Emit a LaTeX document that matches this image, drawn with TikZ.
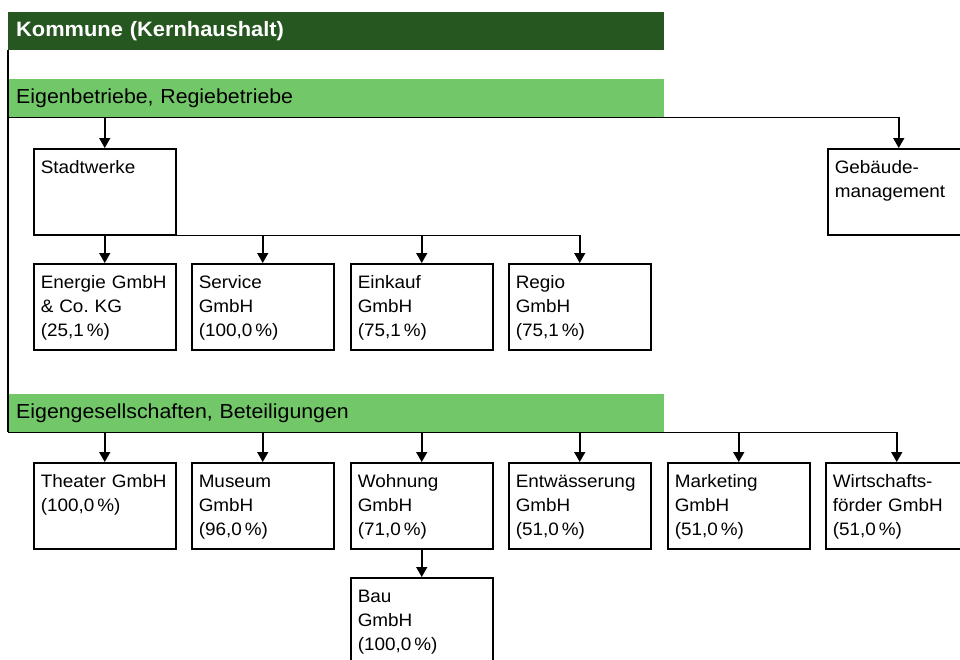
\documentclass[tikz,border=0pt]{standalone}
\usepackage{fontspec}
\setmainfont{Liberation Sans}[FakeStretch=1.05]
\usetikzlibrary{arrows.meta}
\definecolor{dunkelgruen}{RGB}{39,87,32}
\definecolor{hellgruen}{RGB}{114,200,104}

\begin{document}
\begin{tikzpicture}[x=1pt,y=-1pt]
		\tikzset{firma/.style = {draw, line width=1.5pt, anchor=north west, inner xsep=7pt, inner ysep=11pt, text width=128pt, text height=14pt, text depth=50pt, align=left, font=\fontsize{18}{24}\selectfont}}
		\tikzset{balken/.style = {anchor=north west, minimum width=656pt, minimum height=38pt, inner xsep=7pt, text width=640pt, align=left, font=\fontsize{20.3}{24}\selectfont}}
		\tikzset{linie/.style = {line width=1.5pt}}
		\tikzset{pfeil/.style = {line width=1.5pt, -{Triangle[length=10pt,width=11pt]}}}

		\useasboundingbox (0,0) rectangle (960,659);

		\node[balken, fill=dunkelgruen, text=white, font=\bfseries\fontsize{20.8}{24}\selectfont] (K) at (8,12) {Kommune (Kernhaushalt)};
		\node[balken, fill=hellgruen] (E) at (8,79) {Eigenbetriebe, Regiebetriebe};
		\node[balken, fill=hellgruen] (G) at (8,394) {Eigengesellschaften, Beteiligungen};

		\node[firma] (S) at (33,148) {Stadtwerke};
		\node[firma] (M) at (827,148) {Gebäude-\\management};

		\node[firma] (B_1) at (33,263) {Energie GmbH\\\&~Co.~KG\\(25,1\,\%)};
		\node[firma] (B_2) at (191,263) {Service\\GmbH\\(100,0\,\%)};
		\node[firma] (B_3) at (350,263) {Einkauf\\GmbH\\(75,1\,\%)};
		\node[firma] (B_4) at (508,263) {Regio\\GmbH\\(75,1\,\%)};

		\node[firma] (C_1) at (33,462) {Theater GmbH\\(100,0\,\%)};
		\node[firma] (C_2) at (191,462) {Museum\\GmbH\\(96,0\,\%)};
		\node[firma] (C_3) at (350,462) {Wohnung\\GmbH\\(71,0\,\%)};
		\node[firma] (C_4) at (508,462) {Entwässerung\\GmbH\\(51,0\,\%)};
		\node[firma] (C_5) at (667,462) {Marketing\\GmbH\\(51,0\,\%)};
		\node[firma] (C_6) at (825,462) {Wirtschafts-\\förder GmbH\\(51,0\,\%)};

		\node[firma] (D_1) at (350,577) {Bau\\GmbH\\(100,0\,\%)};

		% Kernhaushalt
		\draw[linie] (K.south west)--(G.south west);

		% Eigenbetriebe
		\draw[pfeil] (E.south west)-|(M.north);
		\draw[pfeil] (S.north |- E.south)--(S.north);

		% Stadtwerke
		\draw[pfeil] (S.south east)-|(B_4.north);
		\foreach \i in {1,2,3}
			\draw[pfeil] (B_\i.north |- S.south)--(B_\i.north);

		% Beteiligungen
		\draw[pfeil] (G.south west)-|(C_6.north);
		\foreach \i in {1,...,5}
			\draw[pfeil] (C_\i.north |- G.south)--(C_\i.north);
		\draw[pfeil] (C_3.south)--(D_1.north);

\end{tikzpicture}
\end{document}
